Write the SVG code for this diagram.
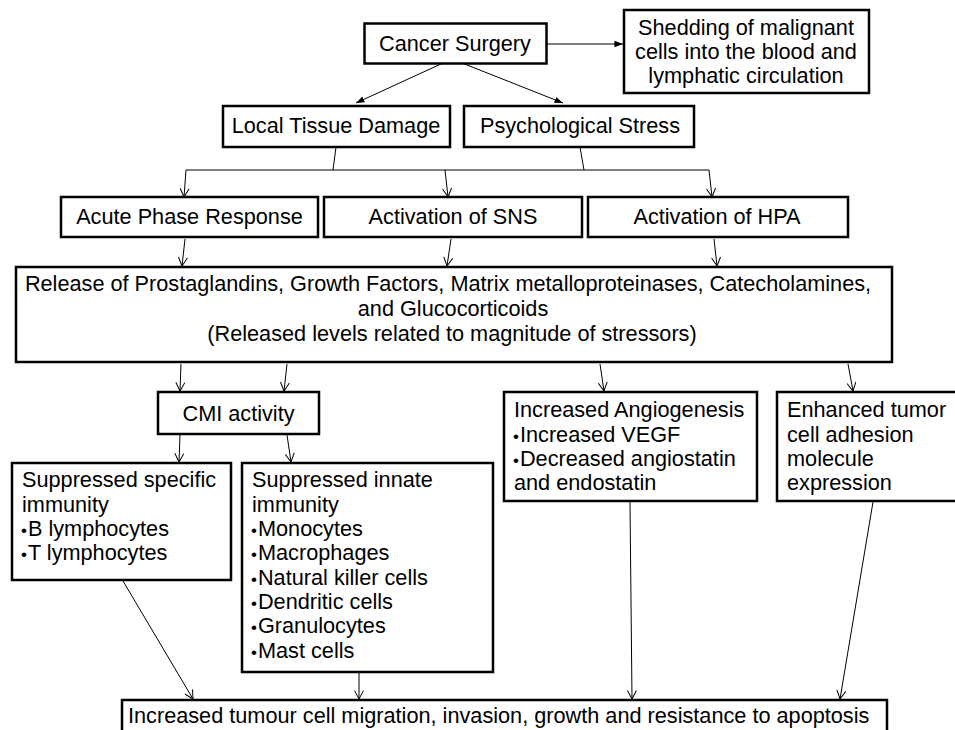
<svg xmlns="http://www.w3.org/2000/svg" width="955" height="730" viewBox="0 0 955 730">
<style>
.box{fill:#fff;stroke:#000;stroke-width:2.5}
.t{font-family:"Liberation Sans",Arial,sans-serif;font-size:21.7px;fill:#000}
.c{text-anchor:middle}
.b{font-size:17px}
.ln{fill:none;stroke:#000;stroke-width:1}
.ao{marker-end:url(#open)}
.af{marker-end:url(#fill)}
</style>
<defs>
<marker id="open" viewBox="0 0 10 10" markerWidth="10" markerHeight="10" refX="9.5" refY="5" orient="auto" markerUnits="userSpaceOnUse">
<path d="M1,0.5 L9.5,5 L1,9.5" fill="none" stroke="#000" stroke-width="1"/>
</marker>
<marker id="fill" viewBox="0 0 10 10" markerWidth="9" markerHeight="9" refX="9.5" refY="5" orient="auto" markerUnits="userSpaceOnUse">
<path d="M0,1.5 L9.5,5 L0,8.5 z" fill="#000"/>
</marker>
</defs>
<rect width="955" height="730" fill="#fff"/>
<g id="connectors">
<line class="ln af" x1="547" y1="44" x2="623" y2="44"/>
<line class="ln af" x1="443" y1="63" x2="356" y2="103"/>
<line class="ln af" x1="462" y1="63" x2="563" y2="103"/>
<polyline class="ln" points="336,147 333,170"/>
<polyline class="ln" points="580,147 584,170"/>
<polyline class="ln" points="186,170 709,170"/>
<line class="ln ao" x1="186" y1="170" x2="184" y2="197"/>
<line class="ln ao" x1="445" y1="170" x2="448" y2="197"/>
<line class="ln ao" x1="709" y1="170" x2="712" y2="197"/>
<line class="ln ao" x1="185" y1="239" x2="182" y2="266"/>
<line class="ln ao" x1="451" y1="239" x2="447" y2="266"/>
<line class="ln ao" x1="714" y1="239" x2="717" y2="266"/>
<line class="ln ao" x1="181" y1="364" x2="180" y2="391"/>
<line class="ln ao" x1="287" y1="364" x2="284" y2="391"/>
<line class="ln ao" x1="600" y1="364" x2="604" y2="391"/>
<line class="ln ao" x1="848" y1="364" x2="853" y2="391"/>
<line class="ln ao" x1="180" y1="435" x2="179" y2="462"/>
<line class="ln ao" x1="287" y1="435" x2="291" y2="462"/>
<line class="ln ao" x1="123" y1="581" x2="193" y2="699"/>
<line class="ln ao" x1="359" y1="673" x2="359" y2="699"/>
<line class="ln ao" x1="630" y1="502" x2="632" y2="699"/>
<line class="ln ao" x1="873" y1="502" x2="840" y2="699"/>
</g>
<g id="cancer-surgery">
<rect class="box" x="364.5" y="23.5" width="182" height="40"/>
<text class="t c" x="455" y="51">Cancer Surgery</text>
</g>
<g id="shedding">
<rect class="box" x="624" y="10" width="245" height="83"/>
<text class="t c" x="746" y="35">Shedding of malignant</text>
<text class="t c" x="746" y="59">cells into the blood and</text>
<text class="t c" x="746" y="83">lymphatic circulation</text>
</g>
<g id="local-tissue-damage">
<rect class="box" x="223" y="106" width="227" height="41"/>
<text class="t c" x="336" y="133">Local Tissue Damage</text>
</g>
<g id="psychological-stress">
<rect class="box" x="464" y="106" width="230" height="41"/>
<text class="t c" x="580" y="133">Psychological Stress</text>
</g>
<g id="acute-phase">
<rect class="box" x="61" y="197" width="257" height="40"/>
<text class="t c" x="189.5" y="224">Acute Phase Response</text>
</g>
<g id="sns">
<rect class="box" x="324" y="197" width="258" height="40"/>
<text class="t c" x="453" y="224">Activation of SNS</text>
</g>
<g id="hpa">
<rect class="box" x="588" y="197" width="260" height="40"/>
<text class="t c" x="717" y="224">Activation of HPA</text>
</g>
<g id="release">
<rect class="box" x="16" y="267" width="876" height="95"/>
<text class="t c" x="448" y="291">Release of Prostaglandins, Growth Factors, Matrix metalloproteinases, Catecholamines,</text>
<text class="t c" x="453" y="316">and Glucocorticoids</text>
<text class="t c" x="452" y="341">(Released levels related to magnitude of stressors)</text>
</g>
<g id="cmi">
<rect class="box" x="158" y="392" width="161" height="42"/>
<text class="t c" x="238.5" y="421">CMI activity</text>
</g>
<g id="specific-immunity">
<rect class="box" x="12" y="463" width="219" height="117"/>
<text class="t" x="22" y="487">Suppressed specific</text>
<text class="t" x="22" y="512">immunity</text>
<text class="t" x="21" y="536"><tspan class="b">•</tspan><tspan dx="1">B lymphocytes</tspan></text>
<text class="t" x="21" y="560"><tspan class="b">•</tspan><tspan dx="1">T lymphocytes</tspan></text>
</g>
<g id="innate-immunity">
<rect class="box" x="242" y="463" width="251" height="209"/>
<text class="t" x="252" y="487">Suppressed innate</text>
<text class="t" x="252" y="512">immunity</text>
<text class="t" x="251" y="536"><tspan class="b">•</tspan><tspan dx="1">Monocytes</tspan></text>
<text class="t" x="251" y="560"><tspan class="b">•</tspan><tspan dx="1">Macrophages</tspan></text>
<text class="t" x="251" y="585"><tspan class="b">•</tspan><tspan dx="1">Natural killer cells</tspan></text>
<text class="t" x="251" y="609"><tspan class="b">•</tspan><tspan dx="1">Dendritic cells</tspan></text>
<text class="t" x="251" y="633"><tspan class="b">•</tspan><tspan dx="1">Granulocytes</tspan></text>
<text class="t" x="251" y="658"><tspan class="b">•</tspan><tspan dx="1">Mast cells</tspan></text>
</g>
<g id="angiogenesis">
<rect class="box" x="504" y="392" width="253" height="109"/>
<text class="t" x="514" y="417">Increased Angiogenesis</text>
<text class="t" x="513" y="442"><tspan class="b">•</tspan><tspan dx="1">Increased VEGF</tspan></text>
<text class="t" x="513" y="466"><tspan class="b">•</tspan><tspan dx="1">Decreased angiostatin</tspan></text>
<text class="t" x="514" y="490">and endostatin</text>
</g>
<g id="adhesion">
<rect class="box" x="777" y="392" width="190" height="109"/>
<text class="t" x="787" y="417">Enhanced tumor</text>
<text class="t" x="787" y="442">cell adhesion</text>
<text class="t" x="787" y="466">molecule</text>
<text class="t" x="787" y="490">expression</text>
</g>
<g id="outcome">
<rect class="box" x="122" y="700" width="765" height="40"/>
<text class="t" x="128" y="723">Increased tumour cell migration, invasion, growth and resistance to apoptosis</text>
</g>
</svg>
